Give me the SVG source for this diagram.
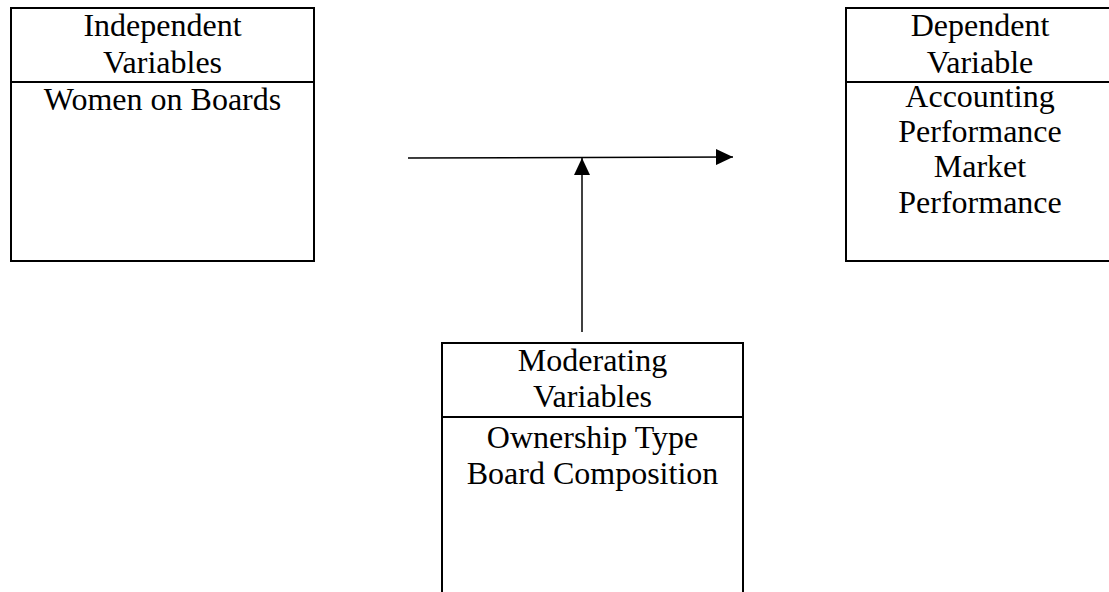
<svg xmlns="http://www.w3.org/2000/svg" width="1109" height="592" viewBox="0 0 1109 592">
<style>
.box{fill:#fff;stroke:#000;stroke-width:2}
.div{stroke:#000;stroke-width:2}
.t{font-family:"Liberation Serif","Times New Roman",serif;font-size:32px;fill:#000;text-anchor:middle}
.con{stroke:#000;stroke-width:1.5;fill:none}
</style>
<defs>
<marker id="ah" markerWidth="17" markerHeight="16" refX="17" refY="8" orient="auto" markerUnits="userSpaceOnUse">
<path d="M0,0 L17,8 L0,16 Z" fill="#000"/>
</marker>
</defs>
<rect width="1109" height="592" fill="#fff"/>
<g id="independent">
<rect class="box" x="11" y="8" width="303" height="253"/>
<line class="div" x1="11" y1="82" x2="314" y2="82"/>
<text class="t" x="162.5" y="36">Independent</text>
<text class="t" x="162.5" y="73">Variables</text>
<text class="t" x="162.5" y="110">Women on Boards</text>
</g>
<g id="dependent">
<rect class="box" x="846" y="8" width="268" height="253"/>
<line class="div" x1="846" y1="82" x2="1114" y2="82"/>
<text class="t" x="980" y="36">Dependent</text>
<text class="t" x="980" y="73">Variable</text>
<text class="t" x="980" y="107">Accounting</text>
<text class="t" x="980" y="142">Performance</text>
<text class="t" x="980" y="177">Market</text>
<text class="t" x="980" y="213">Performance</text>
</g>
<g id="moderating">
<rect class="box" x="442" y="343" width="301" height="260"/>
<line class="div" x1="442" y1="417" x2="743" y2="417"/>
<text class="t" x="592.5" y="371">Moderating</text>
<text class="t" x="592.5" y="407">Variables</text>
<text class="t" x="592.5" y="448">Ownership Type</text>
<text class="t" x="592.5" y="484">Board Composition</text>
</g>
<g id="connectors">
<line class="con" x1="408" y1="158" x2="733" y2="157" marker-end="url(#ah)"/>
<line class="con" x1="582" y1="332" x2="582" y2="158" marker-end="url(#ah)"/>
</g>
</svg>
